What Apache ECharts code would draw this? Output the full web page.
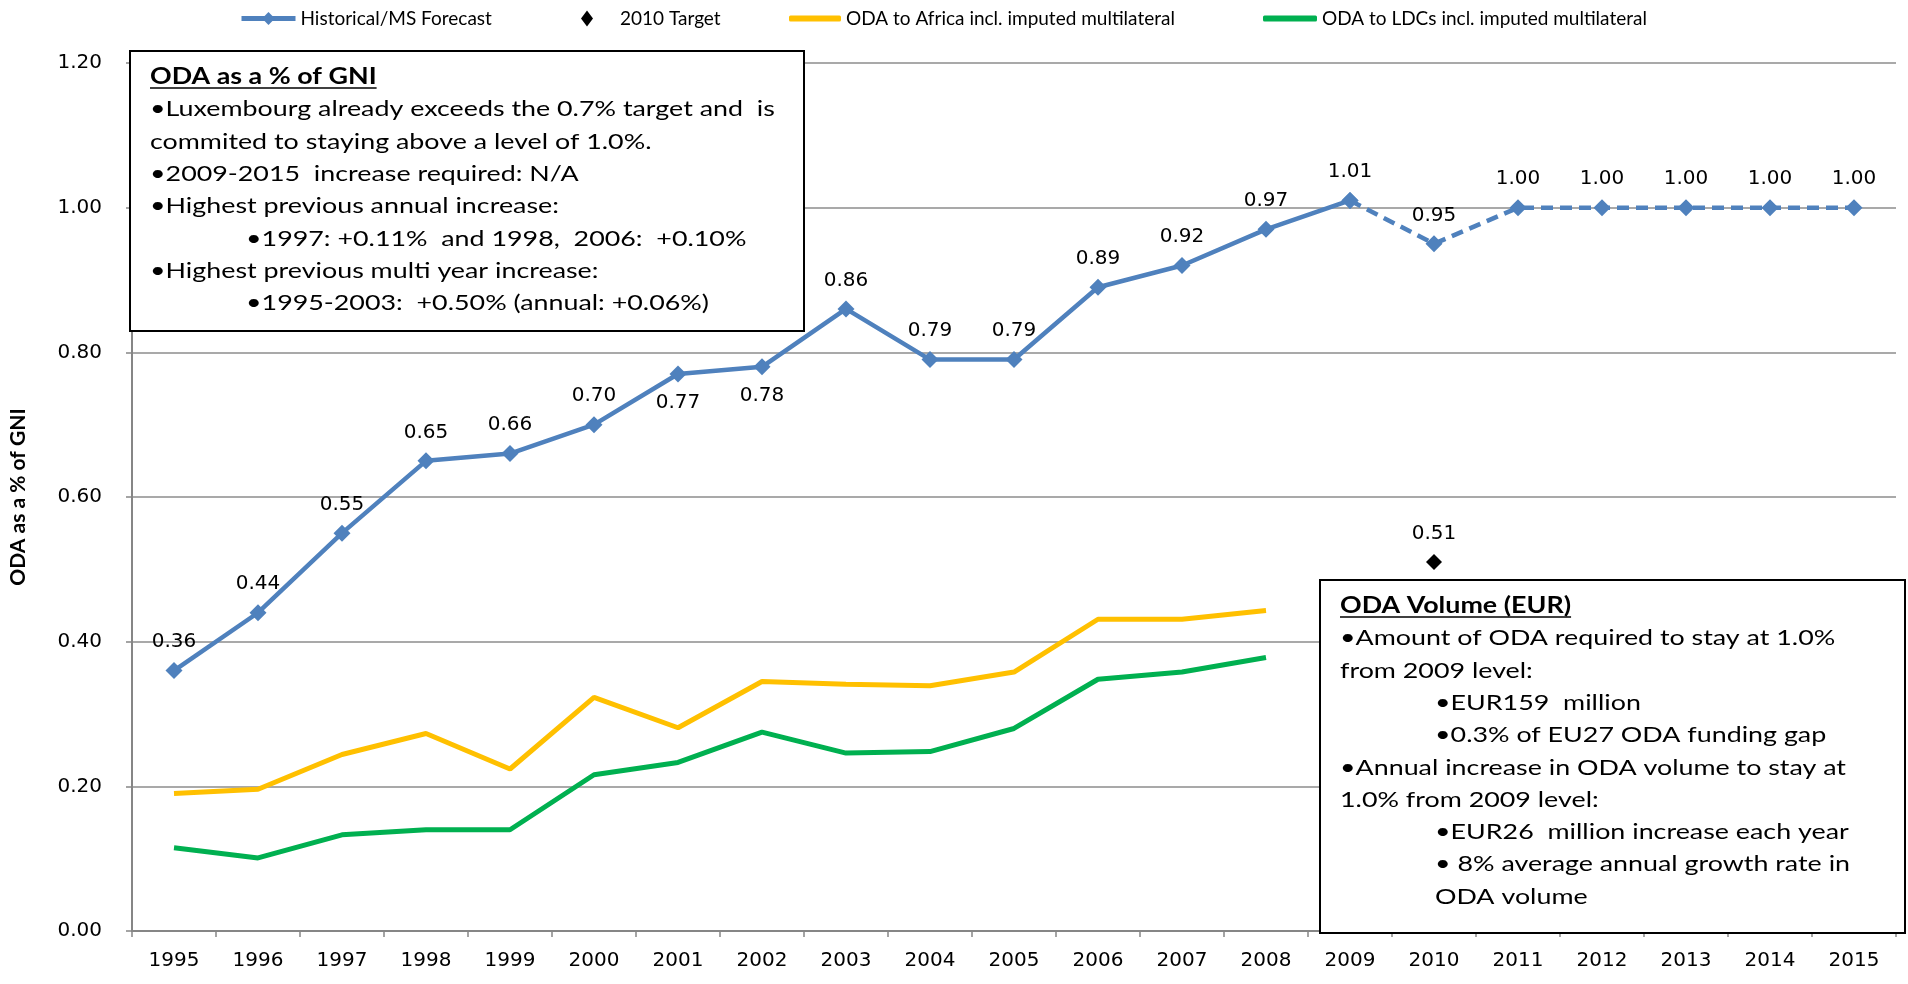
<!DOCTYPE html>
<html>
<head>
<meta charset="utf-8">
<script src="https://cdn.jsdelivr.net/npm/echarts@6/dist/echarts.min.js"></script>
<style>
  html, body { margin: 0; padding: 0; background: #fff; }
  #chart { width: 1908px; height: 984px; }
</style>
</head>
<body>
<div id="chart"></div>
<script>
// categories
var years = ['1995','1996','1997','1998','1999','2000','2001','2002','2003','2004','2005',
             '2006','2007','2008','2009','2010','2011','2012','2013','2014','2015'];
// ODA as % of GNI, historical up to 2009
var historical = [0.36,0.44,0.55,0.65,0.66,0.70,0.77,0.78,0.86,0.79,0.79,0.89,0.92,0.97,1.01,
                  null,null,null,null,null,null];
// MS forecast from 2009 on (dashed part)
var forecast = [null,null,null,null,null,null,null,null,null,null,null,null,null,null,
                1.01,0.95,1.00,1.00,1.00,1.00,1.00];
// 2010 target
var targetYear = '2010';
var targetValue = 0.51;
// ODA to Africa incl. imputed multilateral
var africa = [0.190,0.196,0.244,0.273,0.224,0.323,0.281,0.345,0.341,0.339,0.358,0.431,0.431,0.443,
              null,null,null,null,null,null,null];
// ODA to LDCs incl. imputed multilateral
var ldcs = [0.115,0.101,0.133,0.140,0.140,0.216,0.233,0.275,0.246,0.248,0.280,0.348,0.358,0.378,
            null,null,null,null,null,null,null];
// y ticks
var yTicks = { min: 0, max: 1.2, interval: 0.2 };

var box1Lines = [
  ['ODA as a % of GNI', 0, true],
  ['•Luxembourg already exceeds the 0.7% target and  is', 0],
  ['commited to staying above a level of 1.0%.', 0],
  ['•2009-2015  increase required: N/A', 0],
  ['•Highest previous annual increase:', 0],
  ['•1997: +0.11%  and 1998,  2006:  +0.10%', 1],
  ['•Highest previous multi year increase:', 0],
  ['•1995-2003:  +0.50% (annual: +0.06%)', 1]
];
var box2Lines = [
  ['ODA Volume (EUR)', 0, true],
  ['•Amount of ODA required to stay at 1.0%', 0],
  ['from 2009 level:', 0],
  ['•EUR159  million', 1],
  ['•0.3% of EU27 ODA funding gap', 1],
  ['•Annual increase in ODA volume to stay at', 0],
  ['1.0% from 2009 level:', 0],
  ['•EUR26  million increase each year', 1],
  ['• 8% average annual growth rate in', 1],
  ['ODA volume', 1]
];

var BLUE = '#4F81BD', YELLOW = '#FFC000', GREEN = '#00B050';
var numFont = 'DejaVu Sans';
var boxFont = 'Lato';
var boxSize = 22;
var stretch = 1.22; // reference text is drawn wide

var ctx = document.createElement('canvas').getContext('2d');
function textWidth(t, font) { ctx.font = font; return ctx.measureText(t).width; }

// text box made of graphic elements
function textBox(x, y, w, h, lines, indent, lineH) {
  var els = [{
    type: 'rect', z: 100,
    shape: { x: x, y: y, width: w, height: h },
    style: { fill: '#fff', stroke: '#000', lineWidth: 2 }
  }];
  lines.forEach(function (l, i) {
    var tx = x + 20 + (l[1] ? indent : 0);
    var ty = y + 26 + i * lineH;
    var font = (l[2] ? 'bold ' : '') + boxSize + 'px ' + boxFont;
    els.push({
      type: 'text', z: 101, x: tx, y: ty, scaleX: stretch,
      style: { text: l[0], font: font, fill: '#000', verticalAlign: 'middle', align: 'left' }
    });
    if (l[2]) {
      els.push({
        type: 'line', z: 101,
        shape: { x1: tx, y1: ty + 11, x2: tx + textWidth(l[0], font) * stretch, y2: ty + 11 },
        style: { stroke: '#000', lineWidth: 1.5 }
      });
    }
  });
  return els;
}

var labelBelow = ['2001', '2002'];
var histData = historical.map(function (v, i) {
  return { value: v, label: { position: labelBelow.indexOf(years[i]) >= 0 ? 'bottom' : 'top' } };
});
var fcData = forecast.map(function (v, i) {
  return { value: v, label: { show: v != null && forecast[i - 1] != null } };
});

var chart = echarts.init(document.getElementById('chart'));
var legendText = { fontFamily: boxFont, fontSize: 19, color: '#000' };
chart.setOption({
  animation: false,
  grid: { left: 127, right: 12, top: 63, bottom: 53 },
  legend: [
    { data: ['Historical/MS Forecast'], left: 234, top: 4, itemWidth: 54, itemHeight: 16,
      lineStyle: { width: 5 }, textStyle: legendText },
    { data: [{ name: '2010 Target', icon: 'diamond' }], left: 576, top: 4, itemWidth: 12, itemHeight: 16,
      textStyle: Object.assign({ padding: [0, 0, 0, 22] }, legendText) },
    { data: [{ name: 'ODA to Africa incl. imputed multilateral', icon: 'roundRect' }], left: 784, top: 4,
      itemWidth: 52, itemHeight: 6, textStyle: legendText },
    { data: [{ name: 'ODA to LDCs incl. imputed multilateral', icon: 'roundRect' }], left: 1258, top: 4,
      itemWidth: 54, itemHeight: 6, textStyle: legendText }
  ],
  xAxis: {
    type: 'category',
    data: years,
    boundaryGap: true,
    axisLine: { lineStyle: { color: '#868686', width: 2 } },
    axisTick: { show: true, length: 6, lineStyle: { color: '#868686', width: 1.5 } },
    axisLabel: { fontFamily: numFont, fontSize: 20, color: '#000', margin: 20, interval: 0 }
  },
  yAxis: {
    type: 'value',
    min: yTicks.min, max: yTicks.max, interval: yTicks.interval,
    name: 'ODA as a % of GNI',
    nameLocation: 'middle',
    nameGap: 103,
    nameTextStyle: { fontFamily: boxFont, fontWeight: 'bold', fontSize: 21, color: '#000' },
    axisLine: { show: true, lineStyle: { color: '#868686', width: 2 } },
    axisTick: { show: true, length: 6, lineStyle: { color: '#868686', width: 1.5 } },
    axisLabel: { fontFamily: numFont, fontSize: 20, color: '#000', margin: 30,
      formatter: function (v) { return v.toFixed(2); } },
    splitLine: { lineStyle: { color: '#8c8c8c', width: 1.5 } }
  },
  series: [
    {
      name: 'ODA to Africa incl. imputed multilateral', type: 'line', data: africa,
      symbol: 'none', lineStyle: { color: YELLOW, width: 5 }, itemStyle: { color: YELLOW }, z: 2
    },
    {
      name: 'ODA to LDCs incl. imputed multilateral', type: 'line', data: ldcs,
      symbol: 'none', lineStyle: { color: GREEN, width: 5 }, itemStyle: { color: GREEN }, z: 2
    },
    {
      name: 'Historical/MS Forecast', type: 'line', data: histData,
      symbol: 'diamond', symbolSize: 17,
      lineStyle: { color: BLUE, width: 4.5 }, itemStyle: { color: BLUE },
      label: { show: true, fontFamily: numFont, fontSize: 20, color: '#000', distance: 10,
        formatter: function (p) { return p.value.toFixed(2); } },
      z: 3
    },
    {
      name: 'forecast', type: 'line', data: fcData,
      symbol: 'diamond', symbolSize: 17,
      lineStyle: { color: BLUE, width: 4.5, type: [12, 7] }, itemStyle: { color: BLUE },
      label: { position: 'top', fontFamily: numFont, fontSize: 20, color: '#000', distance: 10,
        formatter: function (p) { return p.value.toFixed(2); } },
      z: 3
    },
    {
      name: '2010 Target', type: 'scatter', data: [[targetYear, targetValue]],
      symbol: 'diamond', symbolSize: 16, itemStyle: { color: '#000', opacity: 1 },
      label: { show: true, position: 'top', fontFamily: numFont, fontSize: 20, color: '#000', distance: 10,
        formatter: function (p) { return p.value[1].toFixed(2); } },
      z: 3
    }
  ],
  graphic: textBox(130, 51, 674, 280, box1Lines, 96, 32.3)
    .concat(textBox(1320, 580, 585, 353, box2Lines, 95, 32.3))
});
</script>
</body>
</html>
